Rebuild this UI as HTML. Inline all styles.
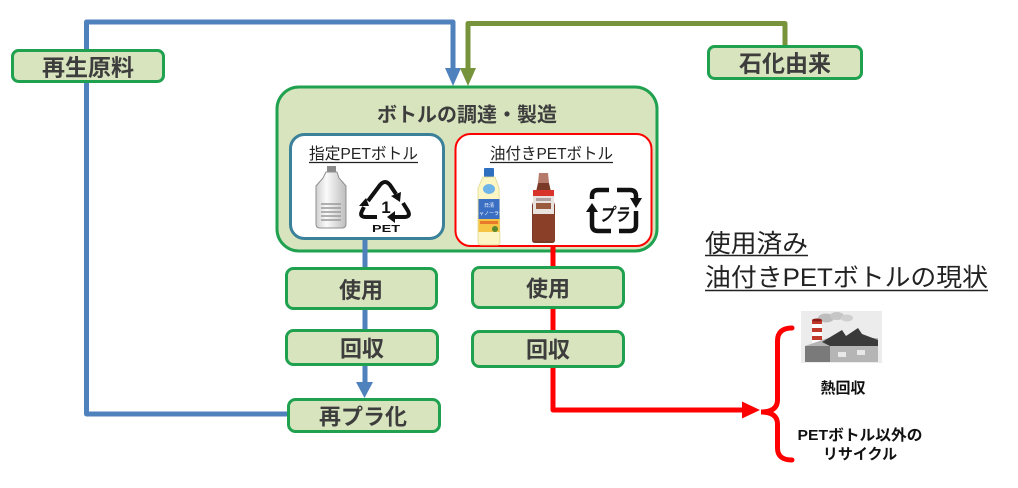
<!DOCTYPE html>
<html><head><meta charset="utf-8"><style>
html,body{margin:0;padding:0;background:#fff;}
svg{display:block;}
text{font-family:"Liberation Sans","Noto Sans CJK JP",sans-serif;}
.b{font-weight:bold;fill:#3d3d3d;}
</style></head><body>
<svg width="1018" height="488" viewBox="0 0 1018 488" xmlns="http://www.w3.org/2000/svg">
<!-- blue loop -->
<polyline points="288,414 86.5,414 86.5,22 453,22 453,70" fill="none" stroke="#4f81bd" stroke-width="5" stroke-linejoin="round"/>
<polygon points="445,68 461,68 453,86" fill="#4f81bd"/>
<!-- green -->
<polyline points="785,47 785,23.5 468,23.5 468,70" fill="none" stroke="#77933c" stroke-width="5" stroke-linejoin="round"/>
<polygon points="460,68 476,68 468,86" fill="#77933c"/>

<!-- main box -->
<rect x="277" y="87" width="380" height="164" rx="22" fill="#d7e4bd" stroke="#1fa14f" stroke-width="3"/>
<text x="467" y="121.5" font-size="20" text-anchor="middle" class="b">ボトルの調達・製造</text>

<!-- blue vertical down -->
<line x1="365" y1="238" x2="365" y2="384" stroke="#4f81bd" stroke-width="5"/>
<polygon points="356,382 373,382 364.5,398" fill="#4f81bd"/>
<!-- red path -->
<polyline points="553,245 553,410 744,410" fill="none" stroke="#ff0000" stroke-width="5" stroke-linejoin="round"/>
<polygon points="742,401.5 742,418.5 760,410" fill="#ff0000"/>

<!-- sub boxes -->
<rect x="290.5" y="134.5" width="153" height="104" rx="14" fill="#fff" stroke="#3a8199" stroke-width="3"/>
<rect x="455.5" y="134" width="196" height="112" rx="15" fill="#fff" stroke="#ff0000" stroke-width="2"/>
<text x="309" y="159" font-size="16" fill="#222" textLength="109" lengthAdjust="spacingAndGlyphs">指定PETボトル</text>
<line x1="309" y1="162.5" x2="418" y2="162.5" stroke="#222" stroke-width="1.2"/>
<text x="490" y="159" font-size="16" fill="#222" textLength="123" lengthAdjust="spacingAndGlyphs">油付きPETボトル</text>
<line x1="490" y1="162.5" x2="613" y2="162.5" stroke="#222" stroke-width="1.2"/>

<!-- gray bottle -->
<defs>
<linearGradient id="gb" x1="0" x2="1" y1="0" y2="0">
<stop offset="0" stop-color="#d0d0d0"/><stop offset="0.35" stop-color="#fafafa"/><stop offset="1" stop-color="#bdbdbd"/>
</linearGradient>
</defs>
<rect x="327" y="166" width="9" height="6" fill="#8a8a8a"/>
<path d="M326 172 L337 172 L339 178 L346 186 L346 224 Q346 228 342 228 L320 228 Q316 228 316 224 L316 186 L323 178 Z" fill="url(#gb)" stroke="#8f8f8f" stroke-width="1"/>
<g stroke="#9a9a9a" stroke-width="1.4">
<line x1="321" y1="204" x2="341" y2="204"/><line x1="321" y1="208" x2="341" y2="208"/>
<line x1="321" y1="212" x2="341" y2="212"/><line x1="321" y1="216" x2="341" y2="216"/>
<line x1="321" y1="220" x2="341" y2="220"/>
</g>
<!-- PET recycle symbol -->
<g fill="none" stroke="#111" stroke-width="4" stroke-linecap="butt" stroke-linejoin="round">
<path d="M368 201 L380 185 Q385 179 390 185 L396 194"/>
<path d="M403 203 L408 211 Q411 217 404 217 L394 217"/>
<path d="M377 217 L366 217 Q359 217 362 211 L364 207"/>
</g>
<polygon points="391,196 401,192 400,202" fill="#111"/>
<polygon points="395,211 395,223 387,217" fill="#111"/>
<polygon points="359,206 369,206 366,198" fill="#111"/>
<text x="386" y="213" font-size="17" font-weight="bold" text-anchor="middle" fill="#111">1</text>
<text x="386" y="232" font-size="10.5" font-weight="bold" text-anchor="middle" fill="#111" textLength="28" lengthAdjust="spacingAndGlyphs">PET</text>

<!-- oil bottle -->
<rect x="484" y="168" width="10" height="9" rx="1" fill="#2f6fc0"/>
<path d="M483 177 L495 177 L499 188 L500 242 Q500 245 497 245 L481 245 Q478 245 478 242 L478 188 Z" fill="#fbf6c4" stroke="#e0d890" stroke-width="0.8"/>
<ellipse cx="489" cy="189" rx="6" ry="5" fill="#6fb4e8"/>
<rect x="478.5" y="199" width="21" height="20" fill="#3b6fc4"/>
<text x="489" y="207" font-size="5" fill="#fff" text-anchor="middle">日清</text>
<text x="489" y="215" font-size="5" fill="#fff" text-anchor="middle">キャノーラ油</text>
<rect x="478.5" y="219" width="21" height="13" fill="#f6c543"/>
<rect x="480" y="221" width="18" height="3" fill="#e8782a"/>
<circle cx="495" cy="229" r="3" fill="#5a8a30"/>
<!-- dressing bottle -->
<path d="M539 173 L548 173 L549 183 L538 183 Z" fill="#b57a6a"/>
<path d="M538 183 L549 183 L552 196 L555 205 L555 240 Q555 243 552 243 L535 243 Q532 243 532 240 L532 205 L535 196 Z" fill="#7a3a28"/>
<rect x="533" y="190" width="21" height="24" fill="#e9e3e0"/>
<rect x="533" y="190" width="21" height="6" fill="#d9342b"/>
<rect x="536" y="198" width="15" height="3" fill="#b0a0a0"/>
<rect x="536" y="203" width="15" height="6" fill="#9a5a40"/>
<rect x="533" y="214" width="22" height="27" fill="#8a3f28"/>
<!-- プラ symbol -->
<g fill="none" stroke="#111" stroke-width="4.5" stroke-linejoin="round">
<path d="M609 190 L598 190 Q592 190 592 196 L592 199"/>
<path d="M592 212 L592 225 Q592 231 598 231 L611 231"/>
<path d="M617 190 L630 190 Q636 190 636 196 L636 199"/>
<path d="M636 211 L636 225 Q636 231 630 231 L619 231"/>
</g>
<polygon points="586,212 598,212 592,203" fill="#111"/>
<polygon points="630,198 642,198 636,208" fill="#111"/>
<text x="614" y="221" font-size="18" font-weight="bold" font-style="italic" text-anchor="middle" fill="#111" textLength="30" lengthAdjust="spacingAndGlyphs">プラ</text>

<!-- green nodes -->
<g fill="#d7e4bd" stroke="#1fa14f" stroke-width="3">
<rect x="12.5" y="50.5" width="151" height="31" rx="6"/>
<rect x="708.5" y="46.5" width="153" height="32" rx="6"/>
<rect x="286.5" y="268.5" width="150" height="40" rx="7"/>
<rect x="286.5" y="330.5" width="151" height="34" rx="7"/>
<rect x="288.5" y="399.5" width="151" height="32" rx="7"/>
<rect x="472.5" y="267.5" width="151" height="40" rx="7"/>
<rect x="472.5" y="331.5" width="151" height="35" rx="7"/>
</g>
<text x="88" y="75.5" font-size="23" text-anchor="middle" class="b">再生原料</text>
<text x="785" y="71.5" font-size="23" text-anchor="middle" class="b">石化由来</text>
<text x="361" y="298" font-size="22" text-anchor="middle" class="b">使用</text>
<text x="362" y="356.5" font-size="22" text-anchor="middle" class="b">回収</text>
<text x="363" y="424.5" font-size="22" text-anchor="middle" class="b">再プラ化</text>
<text x="548" y="296.5" font-size="22" text-anchor="middle" class="b">使用</text>
<text x="548" y="357.5" font-size="22" text-anchor="middle" class="b">回収</text>

<!-- current status heading -->
<text x="705" y="252" font-size="25" fill="#222" textLength="103" lengthAdjust="spacingAndGlyphs">使用済み</text>
<line x1="705" y1="255.5" x2="808" y2="255.5" stroke="#222" stroke-width="1.5"/>
<text x="705" y="286" font-size="25" fill="#222" textLength="283" lengthAdjust="spacingAndGlyphs">油付きPETボトルの現状</text>
<line x1="705" y1="290.5" x2="988" y2="290.5" stroke="#222" stroke-width="1.5"/>

<!-- brace -->
<path d="M792 328 Q777.5 328 777.5 341 L777.5 400 Q777.5 412 761 412 Q777.5 412 777.5 424 L777.5 448 Q777.5 460 792 460" fill="none" stroke="#ff0000" stroke-width="5" stroke-linecap="round"/>

<!-- factory icon -->
<rect x="801" y="311" width="81" height="52" fill="#ececec"/>
<ellipse cx="826" cy="318" rx="8" ry="4.5" fill="#bdbdbd"/>
<ellipse cx="837" cy="316" rx="7" ry="4" fill="#c6c6c6"/>
<ellipse cx="847" cy="318" rx="6" ry="3.5" fill="#cfcfcf"/>
<rect x="812" y="320" width="10" height="26" fill="#fff"/>
<rect x="812" y="320" width="10" height="4" fill="#c0392b"/>
<rect x="812" y="328" width="10" height="4" fill="#c0392b"/>
<rect x="812" y="336" width="10" height="4" fill="#c0392b"/>
<ellipse cx="817" cy="320" rx="5" ry="1.5" fill="#8b1f17"/>
<polygon points="805,346 828,338 878,338 878,362 805,362" fill="#b5b5b5"/>
<polygon points="805,346 830,346 830,362 805,362" fill="#7a7a7a"/>
<polygon points="822,342 842,330 846,336 858,328 862,334 878,340 878,346 830,346" fill="#3a3a3a"/>
<rect x="838" y="352" width="8" height="5" fill="#e8e8e8"/>
<rect x="857" y="350" width="8" height="5" fill="#e8e8e8"/>

<text x="843" y="393" font-size="15" font-weight="bold" text-anchor="middle" fill="#111">熱回収</text>
<text x="860" y="440" font-size="15" font-weight="bold" text-anchor="middle" fill="#111" textLength="125" lengthAdjust="spacingAndGlyphs">PETボトル以外の</text>
<text x="860" y="459" font-size="15" font-weight="bold" text-anchor="middle" fill="#111">リサイクル</text>
</svg>
</body></html>
